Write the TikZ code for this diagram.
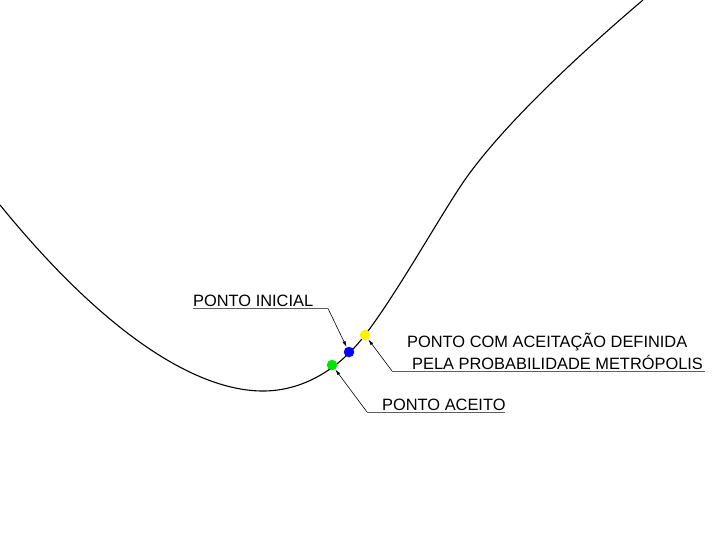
\documentclass[tikz,border=0pt]{standalone}
\usepackage{fontspec}
\setmainfont{Liberation Sans}
\usetikzlibrary{arrows.meta,positioning}
\begin{document}
\begin{tikzpicture}[x=1pt,y=-1pt,
        ponto/.style={circle,inner sep=0pt,minimum size=10.5pt},
        rotulo/.style={anchor=base west,inner sep=0pt,font=\fontsize{16.4}{19}\selectfont},
        guia/.style={gray!75!black,line width=0.6pt},
        seta/.style={-{Latex[length=6pt,width=3.2pt]},black,line width=0.6pt}]
            \useasboundingbox (0,0) rectangle (719,549);
            % Curve
            \draw[line width=1.1pt] (0,205) .. controls (110,340) and (200,391) .. (263,391)
                .. controls (298,391) and (335,374) .. (365,335)
                .. controls (395,296) and (435,225) .. (460,187)
                .. controls (500,126) and (590,45) .. (643,0);
            % Points
            \node[ponto,fill=green!90!black] (aceito) at (332,365) {};
            \node[ponto,fill=blue] (inicial) at (349,352) {};
            \node[ponto,fill=yellow] (metro) at (365,335) {};
            % Labels
            \node[rotulo] (txtIni) at (193,306) {PONTO INICIAL};
            \node[rotulo] (txtAce) at (382,410) {PONTO ACEITO};
            \node[rotulo] (txtMet) at (407,347) {PONTO COM ACEITAÇÃO DEFINIDA};
            \node[rotulo] (txtMet2) at ([xshift=5pt,yshift=-22pt]txtMet.base west) {PELA PROBABILIDADE METRÓPOLIS};
            \coordinate (cIni) at (328,308.5); \coordinate (cIni0) at (193,308.5);
            \coordinate (cAce) at (367,412); \coordinate (cAce1) at (505,412);
            \coordinate (cMet) at (392,371); \coordinate (cMet1) at (705,371);
            % Leaders
            \draw[guia] (cIni0) -- (cIni);
            \draw[seta] (cIni) -- (inicial);
            \draw[guia] (cAce) -- (cAce1);
            \draw[seta] (cAce) -- (aceito);
            \draw[guia] (cMet) -- (cMet1);
            \draw[seta] (cMet) -- (metro);
\end{tikzpicture}
\end{document}
